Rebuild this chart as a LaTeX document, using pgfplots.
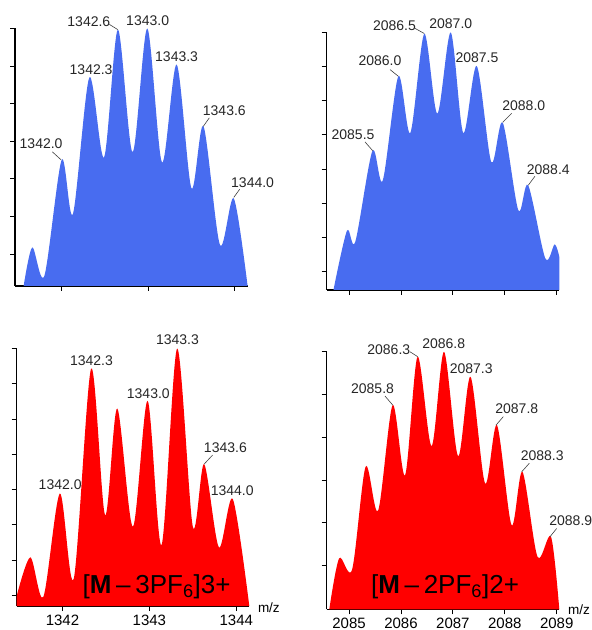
\documentclass[border=0pt]{standalone}
\usepackage{fontspec}
\setmainfont{Liberation Sans}
\usepackage{pgfplots}
\pgfplotsset{compat=1.18}
\definecolor{msblue}{RGB}{72,108,240}
\definecolor{msred}{RGB}{255,0,0}
\pgfplotsset{
  msbase/.style={
    scale only axis, width=232.6pt, height=257.5pt,
    anchor=south west,
    axis lines=left, axis line style={-, line width=1.4pt, black},
    ymin=0, ymax=100,
    tick align=outside, major tick length=5pt,
    tick style={black, line width=0.8pt},
    yticklabels={},
    clip=false,
    /pgf/number format/assume math mode=true,
    /pgf/number format/1000 sep={},
    ticklabel style={font=\fontsize{15}{18}\selectfont},
  },
}
\tikzset{
  ann/.style={font=\fontsize{14}{16}\selectfont, text=black!85, inner sep=0pt},
  lead/.style={black!75, line width=0.6pt},
}
\begin{document}
\begin{tikzpicture}[x=1pt,y=1pt]
\useasboundingbox (0,0) rectangle (592,630);

% ---------------- top left ----------------
\begin{axis}[msbase, at={(15pt,344pt)},
  xmin=1341.46, xmax=1344.15,
  xtick={1342,1343,1344}, xticklabels={},
  ytick={12.4,27.0,41.6,56.2,70.8,85.4,100}]
\addplot[fill=msblue, draw=none, smooth, tension=0.5] coordinates {
(1341.56,0) (1341.66,15) (1341.80,4) (1342.00,49) (1342.13,28) (1342.32,81)
(1342.49,50) (1342.65,99.6) (1342.82,52) (1342.99,100) (1343.16,48) (1343.33,86)
(1343.50,38) (1343.64,62) (1343.83,16) (1343.99,34) (1344.15,0)} \closedcycle;
\node[ann] at (axis cs:1341.762,55.25) {1342.0};
\draw[lead] (axis cs:1341.892,52.1) -- (axis cs:1341.993,49.0);
\node[ann] at (axis cs:1342.340,84.0) {1342.3};
\node[ann] at (axis cs:1342.314,102.5) {1342.6};
\draw[lead] (axis cs:1342.551,101.6) -- (axis cs:1342.647,99.6);
\node[ann] at (axis cs:1342.994,103.2) {1343.0};
\node[ann] at (axis cs:1343.329,89.2) {1343.3};
\node[ann] at (axis cs:1343.881,68.1) {1343.6};
\draw[lead] (axis cs:1343.707,65.3) -- (axis cs:1343.638,62.0);
\node[ann] at (axis cs:1344.208,40.2) {1344.0};
\draw[lead] (axis cs:1344.059,37.6) -- (axis cs:1343.99,34.4);
\end{axis}

% ---------------- top right ----------------
\begin{axis}[msbase, at={(326.7pt,340pt)},
  xmin=2084.57, xmax=2089.05,
  xtick={2085,2086,2087,2088,2089}, xticklabels={},
  ytick={7.3,20.6,33.8,47.0,60.3,73.5,86.8,100}]
\addplot[fill=msblue, draw=none, smooth, tension=0.5] coordinates {
(2084.70,0) (2084.96,23) (2085.12,18.7) (2085.45,54) (2085.65,42.6) (2085.95,83)
(2086.18,61) (2086.45,99.5) (2086.70,68.5) (2086.96,100) (2087.20,61) (2087.46,87)
(2087.74,49.7) (2087.96,65) (2088.26,31) (2088.45,40.7) (2088.78,12.3) (2088.96,17.7)
(2089.05,12.9)} \closedcycle;
\node[ann] at (axis cs:2085.077,60.4) {2085.5};
\draw[lead] (axis cs:2085.308,57.5) -- (axis cs:2085.456,54.1);
\node[ann] at (axis cs:2085.597,88.9) {2086.0};
\draw[lead] (axis cs:2085.790,85.6) -- (axis cs:2085.949,83.0);
\node[ann] at (axis cs:2085.876,102.8) {2086.5};
\draw[lead] (axis cs:2086.271,101.6) -- (axis cs:2086.450,99.6);
\node[ann] at (axis cs:2086.960,103.5) {2087.0};
\node[ann] at (axis cs:2087.465,90.3) {2087.5};
\node[ann] at (axis cs:2088.366,71.4) {2088.0};
\draw[lead] (axis cs:2088.133,68.6) -- (axis cs:2087.960,65.1);
\node[ann] at (axis cs:2088.838,46.8) {2088.4};
\draw[lead] (axis cs:2088.582,44.2) -- (axis cs:2088.453,40.7);
\end{axis}

% ---------------- bottom left ----------------
\begin{axis}[msbase, at={(16.7pt,24pt)},
  xmin=1341.473, xmax=1344.15,
  xtick={1342,1343,1344},
  ytick={4.1,17.8,31.5,45.2,58.9,72.6,86.3,100}]
\addplot[fill=msred, draw=none, smooth, tension=0.5] coordinates {
(1341.473,3.9) (1341.63,18.9) (1341.78,3.6) (1341.97,43.7) (1342.13,10.7) (1342.33,92.2)
(1342.49,35.3) (1342.63,76.7) (1342.81,30.8) (1342.98,79.7) (1343.14,23.7) (1343.32,100)
(1343.50,30.8) (1343.63,55.1) (1343.80,22.8) (1343.96,41.5) (1344.15,0)} \closedcycle;
\node[ann] at (axis cs:1341.973,47.0) {1342.0};
\node[ann] at (axis cs:1342.334,95.2) {1342.3};
\node[ann] at (axis cs:1342.988,82.5) {1343.0};
\node[ann] at (axis cs:1343.323,103.5) {1343.3};
\node[ann] at (axis cs:1343.875,61.4) {1343.6};
\draw[lead] (axis cs:1343.727,58.6) -- (axis cs:1343.630,55.1);
\node[ann] at (axis cs:1343.953,44.6) {1344.0};
\node[anchor=base, inner sep=0pt, font=\fontsize{26}{30}\selectfont] at (axis cs:1343.083,4.9)
  {[\textbf{M}\kern0.18em–\kern0.18em3PF\textsubscript{6}]3+};
\node[anchor=west, inner sep=0pt, xshift=8.5pt, yshift=-1.5pt, font=\fontsize{13.5}{15}\selectfont] at (rel axis cs:1,0) {m/z};
\end{axis}

% ---------------- bottom right ----------------
\begin{axis}[msbase, at={(326.7pt,20.7pt)},
  xmin=2084.57, xmax=2089.05,
  xtick={2085,2086,2087,2088,2089},
  ytick={17.0,33.6,50.2,66.8,83.4,100}]
\addplot[fill=msred, draw=none, smooth, tension=0.5] coordinates {
(2084.62,0) (2084.81,19.8) (2085.06,15.5) (2085.32,55.4) (2085.56,38.3) (2085.84,79.3)
(2086.08,52.1) (2086.32,98.1) (2086.59,63.4) (2086.83,100) (2087.10,59.5) (2087.34,90.3)
(2087.62,48.9) (2087.85,71.5) (2088.13,32.7) (2088.34,53.4) (2088.63,20.4) (2088.89,28.2)
(2089.05,0)} \closedcycle;
\node[ann] at (axis cs:2085.453,85.5) {2085.8};
\draw[lead] (axis cs:2085.693,82.8) -- (axis cs:2085.842,79.3);
\node[ann] at (axis cs:2085.766,100.9) {2086.3};
\draw[lead] (axis cs:2086.175,100.0) -- (axis cs:2086.323,98.1);
\node[ann] at (axis cs:2086.824,103.3) {2086.8};
\node[ann] at (axis cs:2087.353,93.6) {2087.3};
\node[ann] at (axis cs:2088.231,77.8) {2087.8};
\draw[lead] (axis cs:2087.971,74.8) -- (axis cs:2087.830,71.5);
\node[ann] at (axis cs:2088.720,59.6) {2088.3};
\draw[lead] (axis cs:2088.472,56.7) -- (axis cs:2088.326,53.4);
\node[ann] at (axis cs:2089.271,34.4) {2088.9};
\draw[lead] (axis cs:2089.0,31.4) -- (axis cs:2088.871,28.2);
\node[anchor=base, inner sep=0pt, font=\fontsize{26}{30}\selectfont] at (axis cs:2086.849,6.2)
  {[\textbf{M}\kern0.18em–\kern0.18em2PF\textsubscript{6}]2+};
\node[anchor=west, inner sep=0pt, xshift=8.5pt, yshift=0pt, font=\fontsize{13.5}{15}\selectfont] at (rel axis cs:1,0) {m/z};
\end{axis}
\end{tikzpicture}
\end{document}
